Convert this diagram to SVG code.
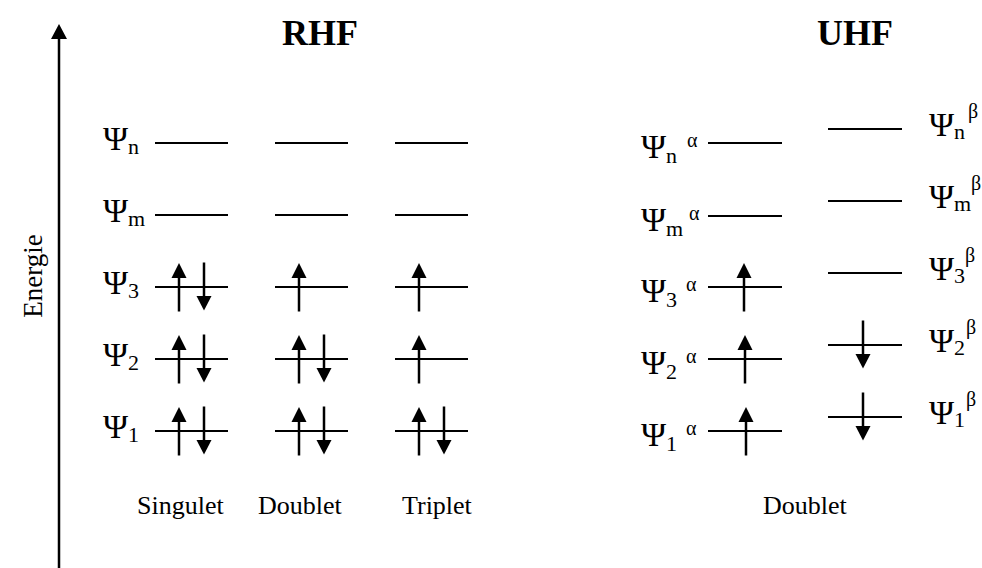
<svg xmlns="http://www.w3.org/2000/svg" xmlns:xlink="http://www.w3.org/1999/xlink" width="982" height="568" viewBox="0 0 982 568">
  <style>
    text { font-family: "Liberation Serif", "Times New Roman", serif; fill: #000; }
    .title { font-size: 36px; font-weight: bold; text-anchor: middle; }
    .lbl { font-size: 26px; }
    .psi { font-size: 34px; }
    .sub { font-size: 22px; }
    .sup { font-size: 20px; }
    .lvl { stroke: #000; stroke-width: 2; }
    .axis { stroke: #000; stroke-width: 2.5; fill: none; }
    .spin line { stroke: #000; stroke-width: 2.5; }
    .spin polygon { fill: #000; }
  </style>
  <defs>
    <g id="up" class="spin">
      <line x1="0" y1="24.5" x2="0" y2="-10"/>
      <polygon points="0,-24 -7.5,-9 7.5,-9"/>
    </g>
    <g id="down" class="spin">
      <line x1="0" y1="-24.5" x2="0" y2="10"/>
      <polygon points="0,23.5 -7.5,9 7.5,9"/>
    </g>
  </defs>
  <rect width="982" height="568" fill="#fff"/>

  <g id="connectors">
    <line class="axis" x1="59" y1="568" x2="59" y2="37"/>
    <polygon points="59,24 51,39 67,39" fill="#000"/>
  </g>

  <g id="energie-label">
    <text class="lbl" x="42" y="276" text-anchor="middle" transform="rotate(-90 42 276)" style="font-size:27px">Energie</text>
  </g>

  <g id="title-rhf"><text class="title" x="320" y="45">RHF</text></g>
  <g id="title-uhf"><text class="title" x="855" y="45">UHF</text></g>

  <!-- RHF labels -->
  <g id="rhf-labels">
    <text class="psi" x="103" y="150">Ψ<tspan class="sub" dy="4">n</tspan></text>
    <text class="psi" x="103" y="222">Ψ<tspan class="sub" dy="4">m</tspan></text>
    <text class="psi" x="103" y="294">Ψ<tspan class="sub" dy="4">3</tspan></text>
    <text class="psi" x="103" y="366">Ψ<tspan class="sub" dy="4">2</tspan></text>
    <text class="psi" x="103" y="438">Ψ<tspan class="sub" dy="4">1</tspan></text>
  </g>

  <!-- RHF Singulet -->
  <g id="rhf-singulet">
    <line class="lvl" x1="155" y1="143" x2="228" y2="143"/>
    <line class="lvl" x1="155" y1="215" x2="228" y2="215"/>
    <line class="lvl" x1="155" y1="287" x2="228" y2="287"/>
    <line class="lvl" x1="155" y1="359" x2="228" y2="359"/>
    <line class="lvl" x1="155" y1="431" x2="228" y2="431"/>
    <use href="#up" x="179" y="287"/><use href="#down" x="204" y="287"/>
    <use href="#up" x="179" y="359"/><use href="#down" x="204" y="359"/>
    <use href="#up" x="179" y="431"/><use href="#down" x="204" y="431"/>
    <text class="lbl" x="137" y="514">Singulet</text>
  </g>

  <!-- RHF Doublet -->
  <g id="rhf-doublet">
    <line class="lvl" x1="275" y1="143" x2="348" y2="143"/>
    <line class="lvl" x1="275" y1="215" x2="348" y2="215"/>
    <line class="lvl" x1="275" y1="287" x2="348" y2="287"/>
    <line class="lvl" x1="275" y1="359" x2="348" y2="359"/>
    <line class="lvl" x1="275" y1="431" x2="348" y2="431"/>
    <use href="#up" x="299" y="287"/>
    <use href="#up" x="299" y="359"/><use href="#down" x="324" y="359"/>
    <use href="#up" x="299" y="431"/><use href="#down" x="324" y="431"/>
    <text class="lbl" x="258" y="514">Doublet</text>
  </g>

  <!-- RHF Triplet -->
  <g id="rhf-triplet">
    <line class="lvl" x1="395" y1="143" x2="468" y2="143"/>
    <line class="lvl" x1="395" y1="215" x2="468" y2="215"/>
    <line class="lvl" x1="395" y1="287" x2="468" y2="287"/>
    <line class="lvl" x1="395" y1="359" x2="468" y2="359"/>
    <line class="lvl" x1="395" y1="431" x2="468" y2="431"/>
    <use href="#up" x="419" y="287"/>
    <use href="#up" x="419" y="359"/>
    <use href="#up" x="419" y="431"/><use href="#down" x="444" y="431"/>
    <text class="lbl" x="402" y="514">Triplet</text>
  </g>

  <!-- UHF alpha -->
  <g id="uhf-alpha">
    <line class="lvl" x1="708" y1="143" x2="782" y2="143"/>
    <line class="lvl" x1="708" y1="216" x2="782" y2="216"/>
    <line class="lvl" x1="708" y1="287" x2="782" y2="287"/>
    <line class="lvl" x1="708" y1="359" x2="782" y2="359"/>
    <line class="lvl" x1="708" y1="431" x2="782" y2="431"/>
    <use href="#up" x="744" y="287"/>
    <use href="#up" x="745" y="359"/>
    <use href="#up" x="746" y="431"/>
    <text class="psi" x="641" y="158">Ψ<tspan class="sub" dy="5">n</tspan><tspan class="sup" x="687" y="146.5">α</tspan></text>
    <text class="psi" x="641" y="231">Ψ<tspan class="sub" dy="5">m</tspan><tspan class="sup" x="689" y="219.5">α</tspan></text>
    <text class="psi" x="641" y="302">Ψ<tspan class="sub" dy="5">3</tspan><tspan class="sup" x="686" y="290.5">α</tspan></text>
    <text class="psi" x="641" y="374">Ψ<tspan class="sub" dy="5">2</tspan><tspan class="sup" x="686" y="362.5">α</tspan></text>
    <text class="psi" x="641" y="446">Ψ<tspan class="sub" dy="5">1</tspan><tspan class="sup" x="686" y="434.5">α</tspan></text>
  </g>

  <!-- UHF beta -->
  <g id="uhf-beta">
    <line class="lvl" x1="828" y1="129" x2="902" y2="129"/>
    <line class="lvl" x1="828" y1="201" x2="902" y2="201"/>
    <line class="lvl" x1="828" y1="273" x2="902" y2="273"/>
    <line class="lvl" x1="828" y1="345" x2="902" y2="345"/>
    <line class="lvl" x1="828" y1="417" x2="902" y2="417"/>
    <use href="#down" x="863" y="345"/>
    <use href="#down" x="863" y="417"/>
    <text class="psi" x="929" y="136">Ψ<tspan class="sub" dy="3">n</tspan><tspan class="sup" x="968" y="118">β</tspan></text>
    <text class="psi" x="929" y="208">Ψ<tspan class="sub" dy="3">m</tspan><tspan class="sup" x="971" y="190">β</tspan></text>
    <text class="psi" x="929" y="280">Ψ<tspan class="sub" dy="3">3</tspan><tspan class="sup" x="965" y="262">β</tspan></text>
    <text class="psi" x="929" y="352">Ψ<tspan class="sub" dy="3">2</tspan><tspan class="sup" x="966" y="334">β</tspan></text>
    <text class="psi" x="929" y="424">Ψ<tspan class="sub" dy="3">1</tspan><tspan class="sup" x="966" y="406">β</tspan></text>
  </g>

  <g id="uhf-doublet-label"><text class="lbl" x="763" y="514">Doublet</text></g>
</svg>
